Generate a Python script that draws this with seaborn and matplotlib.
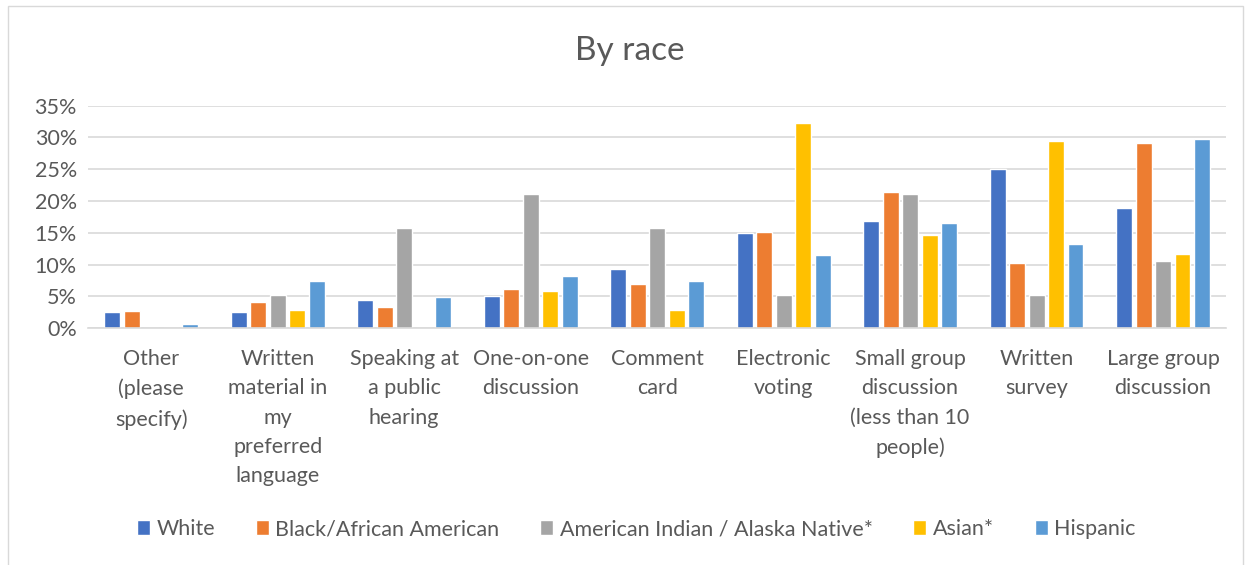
import matplotlib
matplotlib.use("Agg")
import matplotlib.pyplot as plt
import seaborn as sns
import pandas as pd
from matplotlib.patches import Rectangle
from matplotlib.ticker import PercentFormatter

categories = [
    "Other\n(please\nspecify)",
    "Written\nmaterial in\nmy\npreferred\nlanguage",
    "Speaking at\na public\nhearing",
    "One-on-one\ndiscussion",
    "Comment\ncard",
    "Electronic\nvoting",
    "Small group\ndiscussion\n(less than 10\npeople)",
    "Written\nsurvey",
    "Large group\ndiscussion",
]
series_names = ["White", "Black/African American", "American Indian / Alaska Native*", "Asian*", "Hispanic"]
white = [2.5, 2.5, 4.4, 5.1, 9.3, 15.0, 16.8, 25.0, 18.9]
black = [2.7, 4.1, 3.4, 6.2, 6.9, 15.2, 21.5, 10.3, 29.2]
ai_an = [0.0, 5.3, 15.8, 21.1, 15.8, 5.3, 21.1, 5.3, 10.5]
asian = [0.0, 2.9, 0.0, 5.8, 2.9, 32.3, 14.7, 29.4, 11.7]
hispanic = [0.7, 7.4, 4.9, 8.2, 7.4, 11.5, 16.5, 13.2, 29.7]
colors = ["#4472C4", "#ED7D31", "#A5A5A5", "#FFC000", "#5B9BD5"]

rows = []
for name, vals in zip(series_names, [white, black, ai_an, asian, hispanic]):
    for c, v in zip(categories, vals):
        rows.append({"category": c, "group": name, "value": v})
df = pd.DataFrame(rows)

sns.set_theme(style="white")
plt.rcParams["font.family"] = ["Lato", "DejaVu Sans"]
txt = "#595959"

fig = plt.figure(figsize=(12.5, 5.65), dpi=100)
ax = fig.add_axes([0.0704, 0.419, 0.9106, 0.394])
sns.barplot(data=df, x="category", y="value", hue="group", order=categories,
            hue_order=series_names, palette=colors, width=0.77, gap=0.18,
            ax=ax, legend=True, saturation=1)
ax.set_ylim(0, 35)
ax.set_yticks(range(0, 36, 5))
ax.yaxis.set_major_formatter(PercentFormatter(decimals=0))
ax.grid(axis="y", color="#d9d9d9", linewidth=1.2)
ax.set_axisbelow(True)
for s in ["top", "right", "left"]:
    ax.spines[s].set_visible(False)
ax.spines["bottom"].set_color("#d9d9d9")
ax.spines["bottom"].set_linewidth(1.2)
ax.set_xlabel("")
ax.set_ylabel("")
ax.tick_params(axis="both", length=0, colors=txt, labelsize=15.5)
ax.tick_params(axis="x", pad=15)
ax.tick_params(axis="y", pad=8)
for lbl in ax.get_xticklabels():
    lbl.set_linespacing(1.58)
ax.set_xlim(-0.5, len(categories) - 0.5)

handles, labels = ax.get_legend_handles_labels()
ax.get_legend().remove()
fig.legend(handles, labels, loc="center", bbox_to_anchor=(0.509, 0.063), ncol=5,
           frameon=False, fontsize=15.5, handlelength=0.6, handleheight=0.7,
           handletextpad=0.3, columnspacing=1.9, labelcolor=txt)

fig.text(0.504, 0.91, "By race", ha="center", va="center", fontsize=24, color=txt)
fig.patches.append(Rectangle((0.006, -0.01), 0.988, 1.0, transform=fig.transFigure,
                             fill=False, edgecolor="#d9d9d9", linewidth=1))
fig.savefig("out.png", dpi=100)
